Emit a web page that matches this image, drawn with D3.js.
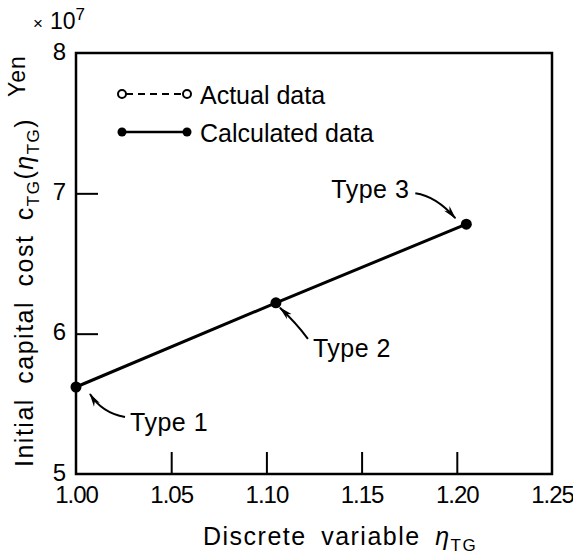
<!DOCTYPE html>
<html lang="en">
<head>
<meta charset="utf-8">
<title>Initial capital cost</title>
<script src="https://cdn.jsdelivr.net/npm/d3@7"></script>
<style>
  body { margin: 0; background: #fff; }
  svg { font-family: "Liberation Sans", Arial, sans-serif; }
  .frame { fill: none; stroke: #000; stroke-width: 2.5px; }
  .axis path { display: none; }
  .axis line { stroke: #000; stroke-width: 2px; }
  .axis text { font-size: 24px; fill: #000; letter-spacing: -1px; }
  .lbl { font-size: 25px; fill: #000; }
  .title { letter-spacing: 1.5px; word-spacing: 6px; }
</style>
</head>
<body>
<div id="chart"></div>
<script>
// discrete variable eta_TG and cost (x 10^7 yen)
var types = ["Type 1", "Type 2", "Type 3"];
var eta = [1.00, 1.105, 1.205];
var cost = [5.62, 6.22, 6.78];
var xTicks = [1.00, 1.05, 1.10, 1.15, 1.20, 1.25];
var yTicks = [5, 6, 7, 8];

var width = 573, height = 557;
var margin = {top: 53, right: 21, bottom: 83, left: 76};

var svg = d3.select("#chart").append("svg")
    .attr("width", width)
    .attr("height", height);

var x = d3.scaleLinear().domain([1.00, 1.25]).range([margin.left, width - margin.right]);
var y = d3.scaleLinear().domain([5, 8]).range([height - margin.bottom, margin.top]);

svg.append("defs").append("marker")
    .attr("id", "arr")
    .attr("viewBox", "0 0 14 10")
    .attr("refX", 13).attr("refY", 5)
    .attr("markerWidth", 14).attr("markerHeight", 10)
    .attr("markerUnits", "userSpaceOnUse")
    .attr("orient", "auto")
  .append("path")
    .attr("d", "M0,1.5 L14,5 L0,8.5 L4,5 Z")
    .attr("fill", "#000");

// x axis, ticks inside
svg.append("g")
    .attr("class", "axis")
    .attr("transform", "translate(0," + y(5) + ")")
    .call(d3.axisBottom(x).tickValues(xTicks).tickSizeInner(-22).tickSizeOuter(0)
      .tickPadding(12).tickFormat(d3.format(".2f")))
    .selectAll(".tick line").filter(function(d) { return d === 1.00 || d === 1.25; }).remove();

// y axis
var ya = svg.append("g")
    .attr("class", "axis")
    .attr("transform", "translate(" + x(1.00) + ",0)")
    .call(d3.axisLeft(y).tickValues(yTicks).tickSizeInner(-22).tickSizeOuter(0)
      .tickPadding(11).tickFormat(d3.format("d")));
ya.selectAll(".tick line").filter(function(d) { return d === 5 || d === 8; }).remove();
ya.selectAll(".tick text").attr("dy", "0.26em");

svg.append("rect")
    .attr("class", "frame")
    .attr("x", x(1.00)).attr("y", y(8))
    .attr("width", x(1.25) - x(1.00))
    .attr("height", y(5) - y(8));

// calculated data line
var line = d3.line()
    .x(function(d, i) { return x(eta[i]); })
    .y(function(d, i) { return y(cost[i]); });

svg.append("path")
    .datum(cost)
    .attr("d", line)
    .attr("fill", "none")
    .attr("stroke", "#000")
    .attr("stroke-width", 3);

svg.selectAll(".pt")
    .data(cost)
  .enter().append("circle")
    .attr("class", "pt")
    .attr("cx", function(d, i) { return x(eta[i]); })
    .attr("cy", function(d) { return y(d); })
    .attr("r", 5.5)
    .attr("fill", "#000");

// annotations: offsets from the point
var notes = [
  {tx: 54, ty: 44, anchor: "start", a0: [49, 30], a1: [14, 7], c: [26, 26]},
  {tx: 37, ty: 54, anchor: "start", a0: [32, 36], a1: [4, 5], c: [20, 20]},
  {tx: -57, ty: -26, anchor: "end", a0: [-51, -31], a1: [-11, -6], c: [-30, -28]}
];

notes.forEach(function(n, i) {
  var px = x(eta[i]), py = y(cost[i]);
  svg.append("path")
      .attr("d", "M" + (px + n.a0[0]) + "," + (py + n.a0[1]) +
        " Q" + (px + n.c[0]) + "," + (py + n.c[1]) +
        " " + (px + n.a1[0]) + "," + (py + n.a1[1]))
      .attr("fill", "none")
      .attr("stroke", "#000")
      .attr("stroke-width", 2)
      .attr("marker-end", "url(#arr)");
  svg.append("text")
      .attr("class", "lbl")
      .attr("x", px + n.tx)
      .attr("y", py + n.ty)
      .attr("text-anchor", n.anchor)
      .style("letter-spacing", "0.5px")
      .text(types[i]);
});

// legend
var lg = svg.append("g").attr("transform", "translate(122,94)");
lg.append("line").attr("x1", 4).attr("x2", 61).attr("y1", 0).attr("y2", 0)
    .attr("stroke", "#000").attr("stroke-width", 2).attr("stroke-dasharray", "7,5");
lg.selectAll(".o").data([0, 65]).enter().append("circle")
    .attr("cx", function(d) { return d; }).attr("cy", 0).attr("r", 4)
    .attr("fill", "#fff").attr("stroke", "#000").attr("stroke-width", 2);
lg.append("text").attr("class", "lbl").attr("x", 78).attr("y", 10).text("Actual data");

lg.append("line").attr("x1", 0).attr("x2", 65).attr("y1", 38).attr("y2", 38)
    .attr("stroke", "#000").attr("stroke-width", 2.5);
lg.selectAll(".f").data([0, 65]).enter().append("circle")
    .attr("cx", function(d) { return d; }).attr("cy", 38).attr("r", 4.5)
    .attr("fill", "#000");
lg.append("text").attr("class", "lbl").attr("x", 78).attr("y", 48).text("Calculated data");

// axis titles
var xt = svg.append("text").attr("class", "lbl title")
    .attr("x", 203).attr("y", 545);
xt.append("tspan").text("Discrete variable ");
xt.append("tspan").attr("font-style", "italic").text("η");
xt.append("tspan").attr("font-size", 17).attr("dy", 6).text("TG");

var yt = svg.append("text").attr("class", "lbl title")
    .attr("transform", "translate(33,467) rotate(-90)");
yt.append("tspan").text("Initial capital cost c");
yt.append("tspan").attr("font-size", 17).attr("dy", 6).text("TG");
yt.append("tspan").attr("dy", -6).text("(");
yt.append("tspan").attr("font-style", "italic").text("η");
yt.append("tspan").attr("font-size", 17).attr("dy", 6).text("TG");
yt.append("tspan").attr("dy", -6).text(")");

svg.append("text").attr("class", "lbl")
    .attr("transform", "translate(25,97) rotate(-90)")
    .style("font-size", "23px")
    .style("letter-spacing", "1px")
    .text("Yen");

var ex = svg.append("text").attr("class", "lbl")
    .attr("x", 33).attr("y", 29).style("font-size", "23px");
ex.append("tspan").style("font-size", "17px").text("×");
ex.append("tspan").attr("dx", 7).text("10");
ex.append("tspan").style("font-size", "17px").attr("dy", -9).text("7");
</script>
</body>
</html>
